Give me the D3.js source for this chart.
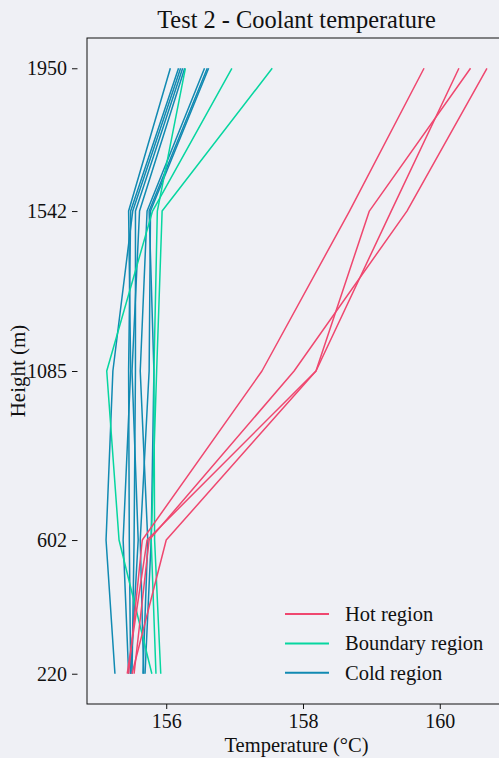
<!DOCTYPE html>
<html>
<head>
<meta charset="utf-8">
<script src="https://cdn.jsdelivr.net/npm/d3@7"></script>
<style>
  html, body { margin: 0; padding: 0; background: #eff0f5; }
  svg { display: block; font-family: "Liberation Serif", "DejaVu Serif", serif; }
</style>
</head>
<body>
<svg id="chart" width="499" height="758"></svg>
<script>
// Measurement heights (m)
const heights = [220, 602, 1085, 1542, 1950];
const heightTicks = [220, 602, 1085, 1542, 1950];
const tempTicks = [156, 158, 160];

// Coolant temperature (°C) per probe, listed bottom to top
const hotRegion = [
  [155.45, 155.65, 157.40, 158.68, 159.77],
  [155.50, 156.00, 158.19, 159.29, 160.28],
  [155.43, 155.72, 158.19, 158.97, 160.45],
  [155.53, 155.75, 157.87, 159.52, 160.69]
];
const boundaryRegion = [
  [155.92, 155.83, 155.82, 155.87, 156.28],
  [155.79, 155.31, 155.13, 155.80, 156.96],
  [155.85, 155.78, 155.86, 155.94, 157.55]
];
const coldRegion = [
  [155.45, 155.37, 155.48, 155.45, 156.06],
  [155.48, 155.46, 155.45, 155.48, 156.18],
  [155.25, 155.12, 155.22, 155.51, 156.21],
  [155.50, 155.53, 155.55, 155.55, 156.24],
  [155.48, 155.59, 155.50, 155.61, 156.27],
  [155.66, 155.73, 155.62, 155.72, 156.56],
  [155.69, 155.78, 155.82, 155.75, 156.60],
  [155.67, 155.62, 155.75, 155.77, 156.62]
];

const regions = [
  { name: "Hot region", color: "#EF476F", series: hotRegion },
  { name: "Boundary region", color: "#06D6A0", series: boundaryRegion },
  { name: "Cold region", color: "#118AB2", series: coldRegion }
];

const margin = { left: 87, top: 38, right: 506, bottom: 704 };
const svg = d3.select("#chart");

svg.append("rect").attr("width", 499).attr("height", 758).attr("fill", "#eff0f5");

// Padded extents (5% each side)
const allT = regions.flatMap(r => r.series.flat());
const [tMin, tMax] = d3.extent(allT);
const tPad = (tMax - tMin) * 0.05;
const [hMin, hMax] = d3.extent(heights);
const hPad = (hMax - hMin) * 0.05;

const x = d3.scaleLinear().domain([tMin - tPad, tMax + tPad]).range([margin.left, margin.right]);
const y = d3.scaleLinear().domain([hMin - hPad, hMax + hPad]).range([margin.bottom, margin.top]);

svg.append("clipPath").attr("id", "plot-clip")
  .append("rect")
  .attr("x", margin.left).attr("y", margin.top)
  .attr("width", margin.right - margin.left).attr("height", margin.bottom - margin.top);

const line = d3.line()
  .x(d => x(d[0]))
  .y(d => y(d[1]));

const plot = svg.append("g").attr("clip-path", "url(#plot-clip)");

// Cold first, then boundary, hot on top
[regions[2], regions[1], regions[0]].forEach(r => {
  plot.selectAll(null)
    .data(r.series)
    .enter()
    .append("path")
    .attr("d", s => line(s.map((t, i) => [t, heights[i]])))
    .attr("fill", "none")
    .attr("stroke", r.color)
    .attr("stroke-width", 1.5)
    .attr("stroke-linejoin", "round");
});

// Frame
svg.append("rect")
  .attr("x", margin.left).attr("y", margin.top)
  .attr("width", margin.right - margin.left).attr("height", margin.bottom - margin.top)
  .attr("fill", "none").attr("stroke", "#111").attr("stroke-width", 1);

// Axes
const xAxis = svg.append("g")
  .attr("transform", `translate(0,${margin.bottom})`)
  .call(d3.axisBottom(x).tickValues(tempTicks).tickFormat(d3.format("d")).tickSize(5).tickPadding(5));
// y ticks sit slightly away from the frame
const yAxis = svg.append("g")
  .attr("transform", `translate(${margin.left - 9.5},0)`)
  .call(d3.axisLeft(y).tickValues(heightTicks).tickFormat(d3.format("d")).tickSize(5.5).tickPadding(5));

[xAxis, yAxis].forEach(a => {
  a.select(".domain").remove();
  a.selectAll(".tick line").attr("stroke", "#111");
  a.selectAll(".tick text")
    .attr("fill", "#111")
    .attr("font-family", "Liberation Serif, DejaVu Serif, serif")
    .attr("font-size", 20);
});

// Title and axis labels
svg.append("text")
  .attr("x", (margin.left + margin.right) / 2).attr("y", 28)
  .attr("text-anchor", "middle")
  .attr("font-size", 24.4).attr("fill", "#111")
  .text("Test 2 - Coolant temperature");

svg.append("text")
  .attr("x", (margin.left + margin.right) / 2).attr("y", 752)
  .attr("text-anchor", "middle")
  .attr("font-size", 20.5).attr("fill", "#111")
  .text("Temperature (°C)");

svg.append("text")
  .attr("transform", `translate(25,${(margin.top + margin.bottom) / 2}) rotate(-90)`)
  .attr("text-anchor", "middle")
  .attr("font-size", 21).attr("fill", "#111")
  .text("Height (m)");

// Legend
const legend = svg.append("g").attr("transform", "translate(285,614)");
regions.forEach((r, i) => {
  const g = legend.append("g").attr("transform", `translate(0,${i * 29.4})`);
  g.append("line").attr("x1", 0).attr("x2", 44).attr("y1", 0).attr("y2", 0)
    .attr("stroke", r.color).attr("stroke-width", 2);
  g.append("text").attr("x", 60).attr("y", 0).attr("dy", "0.33em")
    .attr("font-size", 20.5).attr("fill", "#111").text(r.name);
});
</script>
</body>
</html>
